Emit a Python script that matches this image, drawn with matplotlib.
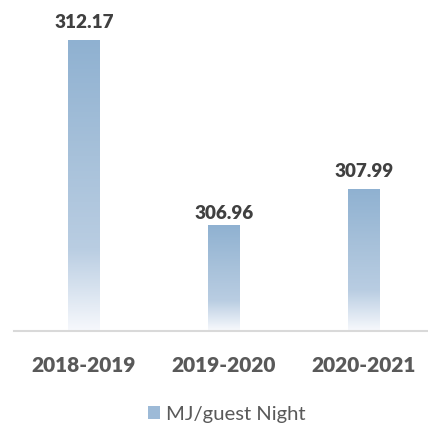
import matplotlib
matplotlib.use("Agg")
import matplotlib.pyplot as plt
import numpy as np
from matplotlib.colors import LinearSegmentedColormap
from matplotlib.patches import Rectangle

categories = ["2018-2019", "2019-2020", "2020-2021"]
values = [312.17, 306.96, 307.99]
series_name = "MJ/guest Night"

label_offsets_px = [19, 13, 18]

plt.rcParams['font.family'] = ['Lato', 'DejaVu Sans']

W, H = 428, 431
fig = plt.figure(figsize=(W / 100, H / 100), dpi=100)
base_px = 331.5
ax = fig.add_axes([14 / W, (H - base_px) / H, 420 / W, base_px / H])

ymin = 304.0
px_per_unit = 35.5
ax.set_ylim(ymin, ymin + base_px / px_per_unit)
ax.set_xlim(-0.5, len(categories) - 0.5)

cmap = LinearSegmentedColormap.from_list(
    "grad", [(0.0, "#f6f8fc"), (0.28, "#b9cde2"), (0.6, "#a7c1da"), (1.0, "#8fb1d1")])
grad = np.linspace(0, 1, 256).reshape(-1, 1)

bw = 32 / 140
bars = ax.bar(range(len(categories)), [v - ymin for v in values], bottom=ymin,
              width=bw, color="none", edgecolor="none", label=series_name)
for i, (b, v) in enumerate(zip(bars, values)):
    x0 = b.get_x()
    im = ax.imshow(grad, cmap=cmap, aspect="auto", origin="lower",
                   extent=[x0, x0 + bw, ymin, v], zorder=2)
    im.set_clip_path(Rectangle((x0, ymin), bw, v - ymin, transform=ax.transData))
    ax.annotate(f"{v:.2f}", xy=(i, v), xytext=(0, label_offsets_px[i] * 0.72),
                textcoords="offset points", ha="center", va="center",
                fontsize=13.6, fontweight="heavy", color="#404040")

ax.set_xlim(-0.5, len(categories) - 0.5)
ax.set_ylim(ymin, ymin + base_px / px_per_unit)
ax.set_xticks(range(len(categories)))
ax.set_xticklabels(categories, fontsize=15, fontweight="heavy", color="#595959")
ax.tick_params(axis="x", length=0, pad=18)
ax.set_yticks([])
for s in ["top", "right", "left"]:
    ax.spines[s].set_visible(False)
ax.spines["bottom"].set_color("#d9d9d9")
ax.spines["bottom"].set_linewidth(1.5)

handle = Rectangle((0, 0), 1, 1, facecolor="#9dbad7", edgecolor="none")
fig.legend([handle], [series_name], loc="center", bbox_to_anchor=(227 / W, (H - 415) / H),
           frameon=False, fontsize=14.6, handlelength=0.6, handleheight=0.6,
           handletextpad=0.3, labelcolor="#595959")

fig.savefig("out.png", dpi=100)
